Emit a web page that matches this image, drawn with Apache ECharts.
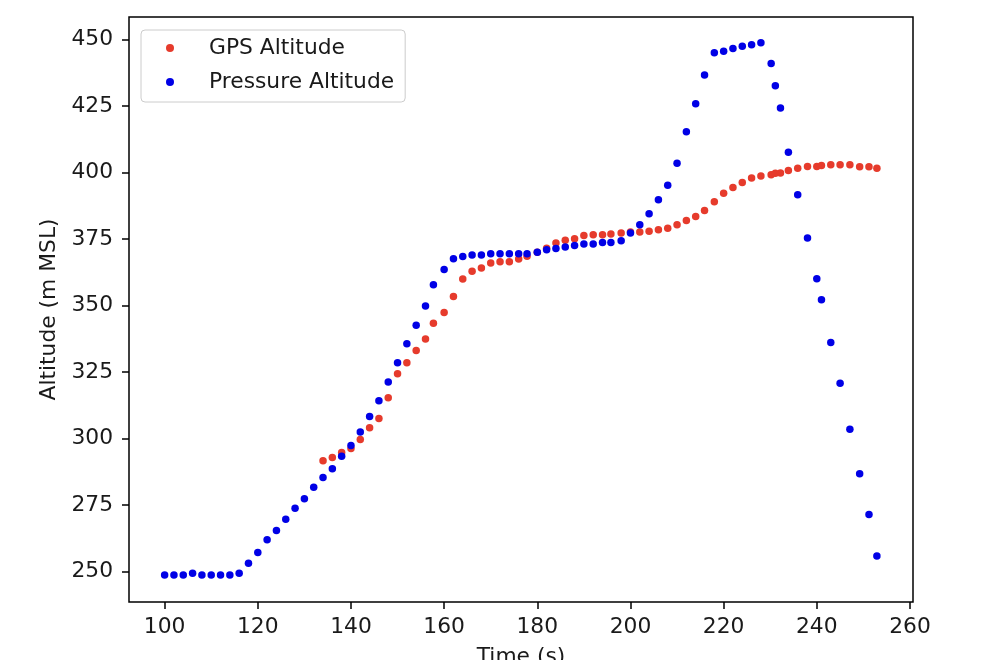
<!DOCTYPE html>
<html>
<head>
<meta charset="utf-8">
<script src="https://cdn.jsdelivr.net/npm/echarts@6/dist/echarts.min.js"></script>
<style>
  html, body { margin: 0; padding: 0; background: #fff; }
  #chart { width: 1004px; height: 660px; }
</style>
</head>
<body>
<div id="chart"></div>
<script>
// time stamps (s), shared by both series
const timeS = [
  100, 102, 104, 106, 108, 110, 112, 114, 116, 118, 120, 122, 124, 126, 128, 130, 132, 134,
  136, 138, 140, 142, 144, 146, 148, 150, 152, 154, 156, 157.7, 160, 162, 164, 166, 168, 170,
  172, 174, 176, 177.8, 180, 182, 184, 186, 188, 190, 192, 194,
  195.8, 198, 200, 202, 204, 206, 208, 210, 212, 214, 215.9, 218, 220, 222, 224, 226, 228,
  230.2, 231.1, 232.2, 233.9, 235.9, 238, 240, 241, 243, 245, 247.1, 249.2, 251.2, 252.9
];

const pressureAlt = [
  248.7, 248.7, 248.7, 249.3, 248.7, 248.7, 248.7, 248.7, 249.3, 253.1, 257.1, 261.9, 265.4, 269.6, 273.8, 277.3, 281.7, 285.3,
  288.6, 293.3, 297.4, 302.4, 308.3, 314.2, 321.2, 328.5, 335.6, 342.6, 349.8, 357.8, 363.5, 367.6, 368.4, 369.0, 369.0, 369.5,
  369.5, 369.5, 369.5, 369.5, 370.0, 371.0, 371.4, 372.0, 372.6, 373.1, 373.1, 373.7,
  373.7, 374.4, 377.3, 380.4, 384.5, 389.8, 395.2, 403.5, 415.3, 425.9, 436.7, 445.1, 445.6, 446.7, 447.5, 448.1, 448.8,
  441.0, 432.6, 424.3, 407.6, 391.7, 375.4, 360.1, 352.2, 336.1, 320.8, 303.5, 286.7, 271.4, 255.8
];

// GPS has no fix before 134 s
const gpsAlt = [
  null, null, null, null, null, null, null, null, null, null, null, null, null, null, null, null, null, 291.6,
  292.8, 294.7, 296.2, 299.6, 304.0, 307.5, 315.3, 324.3, 328.5, 333.1, 337.4, 343.3, 347.4, 353.4, 360.0, 362.9, 364.1, 366.0,
  366.5, 366.5, 367.5, 368.5, 370.0, 371.5, 373.5, 374.5, 375.1, 376.3, 376.6, 376.6,
  376.9, 377.3, 377.6, 377.6, 377.9, 378.5, 379.1, 380.4, 382.0, 383.5, 385.7, 389.0, 392.2, 394.4, 396.3, 398.0, 398.7,
  399.2, 399.7, 399.8, 400.8, 401.6, 402.3, 402.3, 402.7, 402.9, 402.9, 402.9, 402.2, 402.2, 401.6
];

const xTicks = [100, 120, 140, 160, 180, 200, 220, 240, 260];
const yTicks = [250, 275, 300, 325, 350, 375, 400, 425, 450];

const toPairs = (xs, ys) => {
  let out = [];
  for (let i = 0; i < xs.length; i++) {
    if (ys[i] != null) out.push([xs[i], ys[i]]);
  }
  return out;
};

const FONT = "DejaVu Sans";
const FS = 21.8;
const RED = "#e63b2c";
const BLUE = "#0000e6";

let chart = echarts.init(document.getElementById("chart"), null, { renderer: "canvas" });

let option = {
  animation: false,
  backgroundColor: "#fff",
  textStyle: { fontFamily: FONT },
  grid: {
    left: 129, top: 17, width: 784, height: 585,
    outerBoundsMode: "none",
    containLabel: false,
    show: true, borderColor: "#000", borderWidth: 1.5, backgroundColor: "#fff"
  },
  legend: {
    left: 141, top: 30,
    orient: "vertical",
    padding: [7, 11, 9, 25],
    itemGap: 12,
    itemWidth: 8, itemHeight: 8,
    backgroundColor: "rgba(255,255,255,0.8)",
    borderColor: "#cccccc", borderWidth: 1, borderRadius: 4,
    textStyle: { fontFamily: FONT, fontSize: FS, color: "#1a1a1a", padding: [0, 0, 0, 30] },
    data: [
      { name: "GPS Altitude", icon: "circle" },
      { name: "Pressure Altitude", icon: "circle" }
    ]
  },
  xAxis: {
    type: "value",
    min: 92.35, max: 260.65,
    name: "Time (s)",
    nameLocation: "middle",
    nameGap: 44,
    nameTextStyle: { fontFamily: FONT, fontSize: FS, color: "#1a1a1a" },
    axisLine: { show: false },
    axisTick: { show: true, inside: false, length: 7, customValues: xTicks, lineStyle: { color: "#000", width: 1.5 } },
    axisLabel: { customValues: xTicks, margin: 14, fontFamily: FONT, fontSize: FS, color: "#1a1a1a" },
    splitLine: { show: false }
  },
  yAxis: {
    type: "value",
    min: 238.5, max: 458.5,
    name: "Altitude (m MSL)",
    nameLocation: "middle",
    nameRotate: 90,
    nameGap: 68,
    nameTextStyle: { fontFamily: FONT, fontSize: FS, color: "#1a1a1a" },
    axisLine: { show: false },
    axisTick: { show: true, inside: false, length: 7, customValues: yTicks, lineStyle: { color: "#000", width: 1.5 } },
    axisLabel: { customValues: yTicks, margin: 16, fontFamily: FONT, fontSize: FS, color: "#1a1a1a" },
    splitLine: { show: false }
  },
  series: [
    {
      name: "GPS Altitude",
      type: "scatter",
      symbol: "circle",
      symbolSize: 7.5,
      itemStyle: { color: RED, opacity: 1 },
      data: toPairs(timeS, gpsAlt)
    },
    {
      name: "Pressure Altitude",
      type: "scatter",
      symbol: "circle",
      symbolSize: 7.5,
      itemStyle: { color: BLUE, opacity: 1 },
      data: toPairs(timeS, pressureAlt)
    }
  ]
};

chart.setOption(option);
</script>
</body>
</html>
